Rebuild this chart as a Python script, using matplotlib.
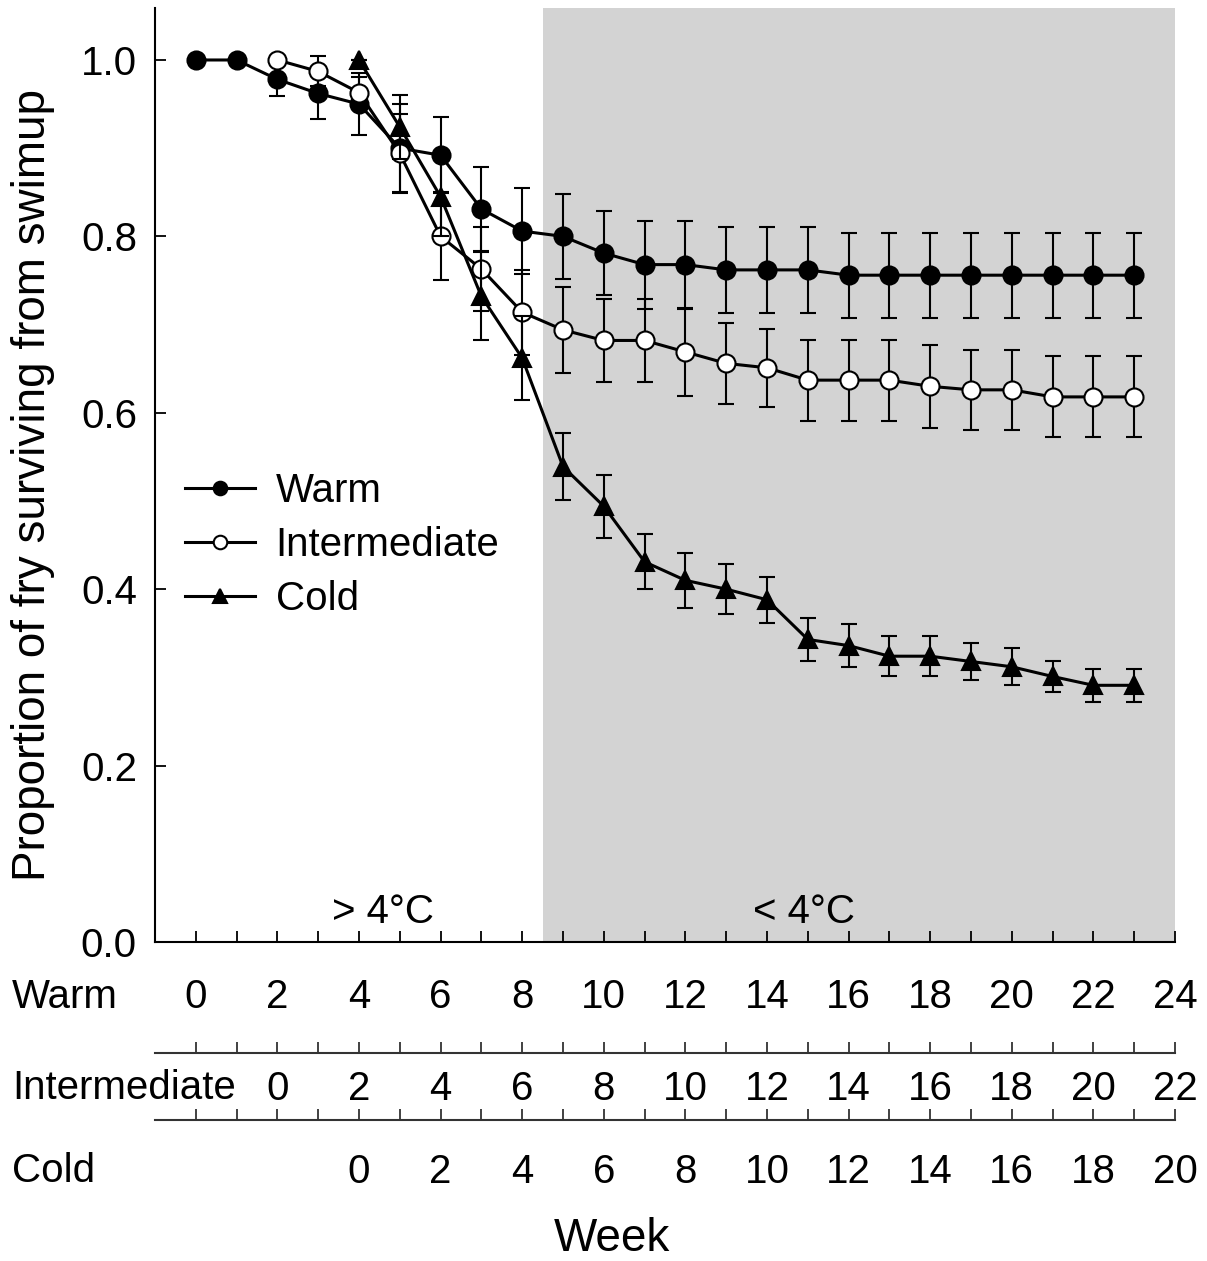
import matplotlib
matplotlib.use("Agg")
from matplotlib import pyplot as plt

plt.rcParams['font.family'] = ['Liberation Sans', 'DejaVu Sans']

# survival data, x position = warm week
warm_weeks = list(range(0, 24))
warm_mean = [1.0, 1.0, 0.978, 0.962, 0.950, 0.900, 0.892, 0.831, 0.806, 0.800,
             0.781, 0.768, 0.768, 0.762, 0.762, 0.762, 0.756, 0.756, 0.756, 0.756,
             0.756, 0.756, 0.756, 0.756]
warm_err = [0, 0, 0.019, 0.029, 0.035, 0.05, 0.043, 0.048, 0.049, 0.048,
            0.048, 0.05, 0.05, 0.049, 0.049, 0.049, 0.048, 0.048, 0.048, 0.048,
            0.048, 0.048, 0.048, 0.048]

inter_weeks = list(range(2, 24))
inter_mean = [1.0, 0.987, 0.963, 0.894, 0.800, 0.763, 0.714, 0.694, 0.682, 0.682,
              0.669, 0.656, 0.651, 0.637, 0.637, 0.637, 0.630, 0.626, 0.626, 0.618,
              0.618, 0.618]
inter_err = [0, 0.017, 0.018, 0.045, 0.05, 0.048, 0.048, 0.049, 0.047, 0.047,
             0.05, 0.046, 0.044, 0.046, 0.046, 0.046, 0.047, 0.045, 0.045, 0.046,
             0.046, 0.046]

cold_weeks = list(range(4, 24))
cold_mean = [1.0, 0.924, 0.845, 0.732, 0.662, 0.539, 0.494, 0.431, 0.410, 0.400,
             0.388, 0.343, 0.336, 0.324, 0.324, 0.318, 0.312, 0.301, 0.291, 0.291]
cold_err = [0, 0.036, 0.045, 0.05, 0.048, 0.038, 0.036, 0.031, 0.031, 0.028,
            0.026, 0.024, 0.024, 0.023, 0.023, 0.021, 0.021, 0.018, 0.019, 0.019]

# tick labels of the three week scales
warm_labels = list(range(0, 25, 2))
inter_labels = list(range(0, 23, 2))
cold_labels = list(range(0, 21, 2))

FS = 29

fig = plt.figure(figsize=(12.07, 12.61), dpi=100)
ax = fig.add_axes([0.1284, 0.2530, 0.8451, 0.7407])

ax.axvspan(8.5, 24, color='#d3d3d3', lw=0, zorder=0)

ebkw = dict(color='black', lw=2.2, elinewidth=1.5, capsize=6, capthick=1.5,
            markersize=13, markeredgewidth=1.5, markeredgecolor='black')
c_warm = ax.errorbar(warm_weeks, warm_mean, yerr=warm_err, fmt='-o', markerfacecolor='black',
                     label='Warm', zorder=3, **ebkw)
c_inter = ax.errorbar(inter_weeks, inter_mean, yerr=inter_err, fmt='-o', markerfacecolor='white',
                      label='Intermediate', zorder=4, **ebkw)
c_cold = ax.errorbar(cold_weeks, cold_mean, yerr=cold_err, fmt='-^', markerfacecolor='black',
                     label='Cold', zorder=5, **ebkw)

ax.set_xlim(-1, 24)
ax.set_ylim(0, 1.059)
ax.spines['top'].set_visible(False)
ax.spines['right'].set_visible(False)
for s in ['left', 'bottom']:
    ax.spines[s].set_linewidth(1.5)

ax.set_yticks([0.0, 0.2, 0.4, 0.6, 0.8, 1.0])
ax.set_yticklabels(['%.1f' % v for v in [0.0, 0.2, 0.4, 0.6, 0.8, 1.0]])
ax.set_xticks(warm_labels)
ax.set_xticklabels([str(v) for v in warm_labels])
ax.set_xticks(range(0, 25), minor=True)
ax.tick_params(axis='y', direction='in', length=8, width=1.3, labelsize=FS, pad=13)
ax.tick_params(axis='x', which='both', direction='in', length=8, width=1.3,
               labelsize=FS, pad=26)

ax.set_ylabel('Proportion of fry surviving from swimup', fontsize=33)
ax.yaxis.set_label_coords(-0.098, 0.489)

ax.text(4.6, 0.034, '> 4°C', fontsize=FS, ha='center', va='center')
ax.text(14.9, 0.034, '< 4°C', fontsize=FS, ha='center', va='center')

# legend without the error bars
handles = [c_warm.lines[0], c_inter.lines[0], c_cold.lines[0]]
ax.legend(handles=handles, labels=['Warm', 'Intermediate', 'Cold'],
          loc='center left', bbox_to_anchor=(0.0294, 0.425), frameon=False,
          fontsize=FS, handlelength=1.75, handletextpad=0.5, labelspacing=0.4,
          borderpad=0, borderaxespad=0, markerscale=0.75)

# extra week scales for intermediate and cold treatments
ax_int = fig.add_axes([0.1284, 0.1649, 0.8451, 0.001])
ax_cold = fig.add_axes([0.1284, 0.1118, 0.8451, 0.001])
for a, labels, offset, pad in [(ax_int, inter_labels, 2, 12.5), (ax_cold, cold_labels, 4, 24)]:
    a.set_xlim(-1, 24)
    a.set_yticks([])
    a.patch.set_visible(False)
    for s in ['top', 'right', 'left']:
        a.spines[s].set_visible(False)
    a.spines['bottom'].set_linewidth(1.5)
    a.spines['bottom'].set_color('#333333')
    a.set_xticks([v + offset for v in labels])
    a.set_xticklabels([str(v) for v in labels])
    a.set_xticks(range(0, 25), minor=True)
    a.tick_params(axis='x', which='both', direction='in', length=8, width=1.3,
                  labelsize=FS, pad=pad, color='#333333')

fig.text(12 / 1207, 0.201, 'Warm', fontsize=FS, ha='left', va='baseline')
fig.text(12 / 1207, 0.1281, 'Intermediate', fontsize=FS, ha='left', va='baseline')
fig.text(12 / 1207, 0.0623, 'Cold', fontsize=FS, ha='left', va='baseline')
fig.text(612 / 1207, 0.008, 'Week', fontsize=33, ha='center', va='baseline')

fig.savefig('out.png', dpi=100)
